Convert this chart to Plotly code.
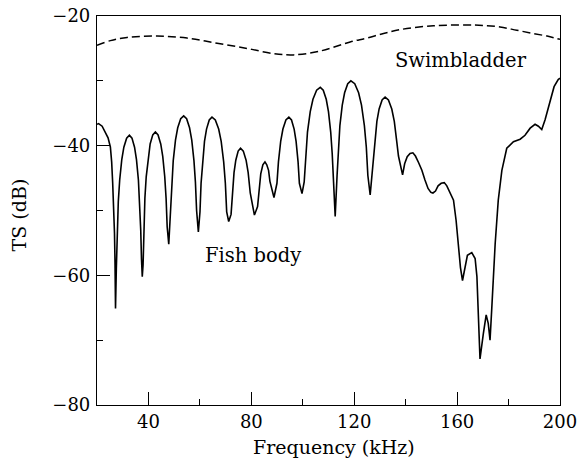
import plotly.graph_objects as go

# Fish body TS (dB) vs frequency (kHz)
fish_freq = [
    20.0, 20.6, 22.0, 23.3, 24.3, 25.2, 25.7, 26.1, 26.5, 26.8, 27.0, 27.2,
    27.52, 27.85, 28.28, 28.82, 29.63, 30.44, 31.52, 32.6, 33.6, 34.6, 35.35, 36.1, 36.6, 37.0, 37.3, 37.6,
    37.91, 38.21, 38.62, 39.13, 39.9, 40.66, 41.68, 42.7, 43.74, 44.78, 45.56, 46.34, 46.86, 47.28, 47.9,
    48.6, 49.06, 49.64, 50.51, 51.38, 52.54, 53.7, 54.84, 55.98, 56.84, 57.69, 58.26, 58.72, 59.4,
    60.04, 60.46, 60.99, 61.79, 62.58, 63.64, 64.7, 66.0, 67.3, 68.28, 69.25, 69.9, 70.42, 71.2,
    72.12, 72.58, 73.27, 73.96, 74.88, 75.8, 76.88, 77.96, 78.77, 79.58, 81.2,
    82.43, 83.05, 83.66, 84.48, 85.3, 86.0, 86.7, 87.23, 88.8,
    89.96, 90.54, 91.41, 92.28, 93.44, 94.6, 95.62, 96.64, 97.4, 98.17, 98.68, 99.7,
    100.55, 101.12, 101.83, 102.9, 103.96, 105.38, 106.8, 107.96, 109.12, 109.99, 110.86, 111.44, 111.9, 112.6,
    113.33, 113.82, 114.43, 115.35, 116.26, 117.48, 118.7, 120.2, 121.7, 122.83, 123.95, 124.7, 125.3, 126.2,
    127.36, 127.94, 128.81, 129.68, 130.84, 132.0, 133.3, 134.6, 135.58, 136.55, 137.2, 138.8,
    139.6, 140.6, 141.7, 142.8, 143.8, 145.0, 146.3, 147.5, 148.7, 149.8, 150.6, 151.6, 152.6, 153.8, 155.0,
    156.0, 157.0, 158.6, 159.6, 160.5, 161.3, 162.1, 163.1, 164.0, 165.7, 167.0, 167.7, 168.3, 168.9,
    170.2, 171.3, 172.1, 172.8, 173.5, 174.8, 176.0, 177.4, 179.3, 181.9, 184.5, 186.4, 188.4, 190.3,
    191.6, 192.9, 194.2, 196.1, 197.7, 199.3, 200.0,
]
fish_ts = [
    -36.7, -36.6, -37.0, -37.9, -38.8, -40.2, -42.5, -45.8, -49.0, -53.5, -58.0, -65.1,
    -58.9, -53.0, -48.6, -45.3, -42.15, -40.24, -38.84, -38.4, -38.84, -40.24, -42.15, -45.3, -48.6, -53.0, -57.5, -60.2,
    -58.4, -52.5, -48.1, -44.8, -41.65, -39.74, -38.34, -37.9, -38.34, -39.74, -41.65, -44.8, -48.1, -52.5, -55.2,
    -50.0, -45.6, -42.3, -39.15, -37.24, -35.84, -35.4, -35.84, -37.24, -39.15, -42.3, -45.6, -50.0, -53.3,
    -50.2, -45.8, -42.5, -39.35, -37.44, -36.04, -35.6, -36.04, -37.44, -39.35, -42.5, -45.8, -50.2, -51.7,
    -50.6, -47.3, -44.15, -42.24, -40.84, -40.4, -40.84, -42.24, -44.15, -47.3, -50.7,
    -49.4, -46.25, -44.34, -42.94, -42.5, -42.94, -43.8, -45.5, -48.0,
    -45.8, -42.5, -39.35, -37.44, -36.04, -35.6, -36.04, -37.44, -39.35, -42.5, -45.8, -47.4,
    -45.6, -41.2, -37.9, -34.75, -32.84, -31.44, -31.0, -31.44, -32.84, -34.75, -37.9, -41.2, -45.6, -50.9,
    -44.6, -40.2, -36.9, -33.75, -31.84, -30.44, -30.0, -30.44, -31.84, -33.75, -36.9, -40.2, -44.6, -47.6,
    -42.7, -39.4, -36.25, -34.34, -32.94, -32.5, -32.94, -34.34, -36.25, -39.4, -41.6, -44.5,
    -42.8, -41.7, -41.2, -41.1, -41.6, -42.6, -43.8, -45.3, -46.6, -47.2, -47.3, -47.0, -46.2, -45.8, -45.7,
    -46.2, -47.0, -48.4, -51.5, -55.6, -58.8, -60.8, -58.7, -56.9, -56.5, -57.4, -60.2, -66.9, -72.9,
    -69.0, -66.1, -67.4, -70.0, -64.9, -55.1, -48.4, -43.8, -40.4, -39.4, -39.0, -38.4, -37.3, -36.7,
    -37.0, -37.5, -36.0, -33.0, -30.9, -29.8, -29.6,
]

# Swimbladder TS (dB) vs frequency (kHz)
swim_freq = [20.0, 25.2, 31.7, 43.4, 55.0, 66.7, 78.3, 88.7, 96.4, 106.8, 118.4, 124.9,
             131.4, 137.8, 150.8, 163.7, 170.0, 176.7, 183.2, 189.6, 195.0, 200.0]
swim_ts = [-24.5, -23.8, -23.3, -23.1, -23.4, -24.2, -25.0, -25.8, -26.0, -25.4, -24.0, -23.4,
           -22.7, -22.1, -21.5, -21.4, -21.45, -21.7, -22.2, -22.7, -23.1, -23.6]

x_ticks = [40, 80, 120, 160, 200]
y_ticks = [-80, -60, -40, -20]
x_minor = [20, 60, 100, 140, 180]
y_minor = [-70, -50, -30]

FONT = "DejaVu Serif"

fig = go.Figure()
fig.add_trace(go.Scatter(x=swim_freq, y=swim_ts, mode="lines", line_shape="spline",
                         line=dict(color="black", width=1.5, dash="8px,4px"),
                         showlegend=False, hoverinfo="skip"))
fig.add_trace(go.Scatter(x=fish_freq, y=fish_ts, mode="lines",
                         line=dict(color="black", width=1.6),
                         showlegend=False, hoverinfo="skip"))

fig.add_annotation(x=161.5, y=-26.8, text="Swimbladder", showarrow=False,
                   font=dict(family=FONT, size=19.5, color="black"))
fig.add_annotation(x=80.6, y=-57.0, text="Fish body", showarrow=False,
                   font=dict(family=FONT, size=19.5, color="black"))

# axis titles
fig.add_annotation(x=0.511, y=-0.108, xref="paper", yref="paper", text="Frequency (kHz)",
                   showarrow=False, xanchor="center", yanchor="middle",
                   font=dict(family=FONT, size=19, color="black"))
fig.add_annotation(x=-0.168, y=0.488, xref="paper", yref="paper", text="TS (dB)",
                   showarrow=False, xanchor="center", yanchor="middle", textangle=-90,
                   font=dict(family=FONT, size=19, color="black"))

axis_common = dict(
    showgrid=False, zeroline=False, showline=True, linecolor="black", linewidth=1.2,
    mirror=True, ticks="inside", ticklen=13, tickwidth=1.2, tickcolor="black",
    tickfont=dict(family=FONT, size=18, color="black"), automargin=False,
)

fig.update_xaxes(range=[20, 200], tickvals=x_ticks, ticktext=[str(v) for v in x_ticks],
                 minor=dict(tickvals=x_minor, ticks="inside", ticklen=6,
                            tickwidth=1.2, tickcolor="black"),
                 ticklabelstandoff=0,
                 **axis_common)
fig.update_yaxes(range=[-80, -20], tickvals=y_ticks, ticktext=["\u221280", "\u221260", "\u221240", "\u221220"],
                 minor=dict(tickvals=y_minor, ticks="inside", ticklen=6,
                            tickwidth=1.2, tickcolor="black"),
                 ticklabelstandoff=2,
                 **axis_common)

fig.update_layout(width=586, height=464,
                  margin=dict(l=97, r=26, t=16, b=59, autoexpand=False),
                  paper_bgcolor="white", plot_bgcolor="white", showlegend=False)

fig.write_html("out.html", config={"displayModeBar": False},
               post_script="document.body.style.margin='0px';document.body.style.overflow='hidden';")
